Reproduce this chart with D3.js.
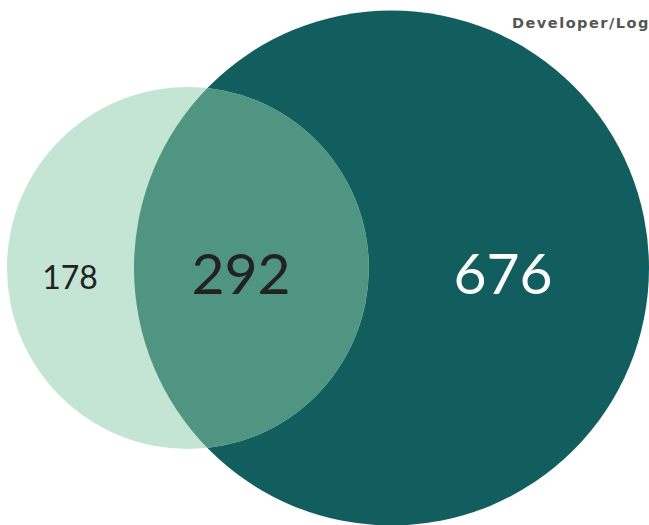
<!DOCTYPE html>
<html><head><meta charset="utf-8">
<script src="https://cdn.jsdelivr.net/npm/d3@7"></script>
<style>html,body{margin:0;padding:0;background:#fff;overflow:hidden}</style>
</head><body>
<svg id="chart" width="649" height="525"></svg>
<script>
const setNames = ["", "Developer/Log"];
const regionLabels = ["178", "292", "676"];
const onlyA = 178, both = 292, onlyB = 676;
const setTotals = [onlyA + both, both + onlyB];

const svg = d3.select("#chart");
const r = d3.scaleSqrt().domain([0, setTotals[1]]).range([0, 257.5]);
const rA = r(setTotals[0]) + 1.5, rB = r(setTotals[1]);
const cy = 268;
const cxA = 7 + rA, cxB = 649 - rB;

const defs = svg.append("defs");
defs.append("clipPath").attr("id", "clipB")
  .append("circle").attr("cx", cxB).attr("cy", cy).attr("r", rB);

svg.append("circle").attr("cx", cxB).attr("cy", cy).attr("r", rB).attr("fill", "#125e5f");
svg.append("circle").attr("cx", cxA).attr("cy", cy).attr("r", rA).attr("fill", "#c4e5d4");
svg.append("circle").attr("cx", cxA).attr("cy", cy).attr("r", rA).attr("fill", "#4f9581")
  .attr("clip-path", "url(#clipB)");

const font = "Lato, 'Open Sans', sans-serif";
svg.append("text").attr("x", 70).attr("y", 289).attr("text-anchor", "middle")
  .attr("font-family", font).attr("font-size", 32).attr("font-weight", 400)
  .attr("fill", "#222").text(regionLabels[0]);
svg.append("text").attr("x", 241).attr("y", 294).attr("text-anchor", "middle")
  .attr("font-family", font).attr("font-size", 57).attr("font-weight", 400)
  .attr("fill", "#222").text(regionLabels[1]);
svg.append("text").attr("x", 503).attr("y", 294).attr("text-anchor", "middle")
  .attr("font-family", font).attr("font-size", 57).attr("font-weight", 400)
  .attr("fill", "#fff").text(regionLabels[2]);

svg.append("text").attr("x", 512).attr("y", 28)
  .attr("font-family", "'DejaVu Sans', sans-serif").attr("font-size", 14.5).attr("font-weight", 700)
  .attr("letter-spacing", 1.5)
  .attr("fill", "#555").text(setNames[1]);
</script>
</body></html>
